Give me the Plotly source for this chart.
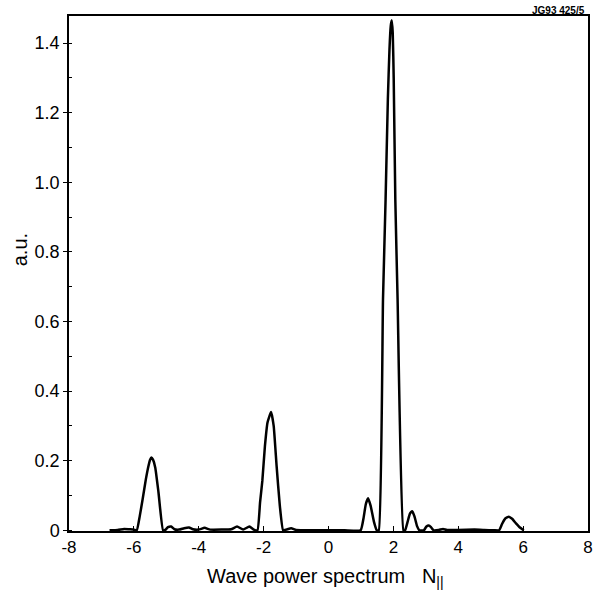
import plotly.graph_objects as go

# Wave power spectrum (a.u.) vs N||
n_par = [-6.75, -6.5, -6.3, -6.15, -6.0, -5.91, -5.82, -5.73, -5.63, -5.55, -5.5, -5.46, -5.41, -5.34, -5.24, -5.10,
         -5.02, -4.95, -4.85, -4.75, -4.6, -4.45, -4.30, -4.18, -4.0, -3.82, -3.65, -3.3, -3.0, -2.82, -2.63, -2.44,
         -2.3, -2.19, -2.11, -2.04, -1.96, -1.88, -1.77, -1.69, -1.60, -1.50, -1.40, -1.3, -1.15, -1.0, -0.5, 0.0,
         0.5, 0.99, 1.08, 1.15, 1.22, 1.30, 1.40, 1.49, 1.55, 1.68, 1.76, 1.83, 1.88, 1.92, 1.95, 1.98, 2.01, 2.06,
         2.13, 2.31, 2.36, 2.44, 2.51, 2.58, 2.65, 2.73, 2.80, 2.94, 3.02, 3.09, 3.16, 3.24, 3.4, 3.53, 3.65, 4.0,
         4.5, 4.8, 5.1, 5.26, 5.35, 5.45, 5.56, 5.66, 5.78, 5.9, 6.02]
power = [0.0, 0.001, 0.004, 0.003, 0.002, 0.0, 0.04, 0.089, 0.147, 0.185, 0.203, 0.209, 0.203, 0.18, 0.108, 0.0,
         0.002, 0.009, 0.011, 0.003, 0.002, 0.006, 0.008, 0.003, 0.002, 0.007, 0.002, 0.002, 0.003, 0.011, 0.002, 0.011,
         0.002, 0.0, 0.08, 0.142, 0.242, 0.31, 0.34, 0.30, 0.185, 0.07, 0.0, 0.002, 0.006, 0.001, 0.0, 0.0,
         0.0, 0.0, 0.035, 0.075, 0.092, 0.07, 0.025, 0.0, 0.0, 0.664, 0.951, 1.239, 1.382, 1.45, 1.466, 1.43, 1.30, 0.95,
         0.664, 0.0, 0.0, 0.025, 0.048, 0.055, 0.04, 0.012, 0.0, 0.0, 0.011, 0.014, 0.009, 0.0, 0.001, 0.004, 0.001, 0.001,
         0.002, 0.001, 0.0, 0.0, 0.018, 0.034, 0.039, 0.033, 0.02, 0.008, 0.0]

x_ticks = [-8, -6, -4, -2, 0, 2, 4, 6, 8]
y_ticks = [0, 0.2, 0.4, 0.6, 0.8, 1.0, 1.2, 1.4]
y_ticktext = ["0", "0.2", "0.4", "0.6", "0.8", "1.0", "1.2", "1.4"]

fig = go.Figure()
fig.add_trace(go.Scatter(x=n_par, y=power, mode="lines",
                         line=dict(color="black", width=2.5, shape="spline", smoothing=0.4),
                         showlegend=False, hoverinfo="skip"))

font_family = "Liberation Sans, Arial, sans-serif"
fig.update_layout(
    width=598, height=594,
    margin=dict(l=69, r=5, t=16, b=63),
    paper_bgcolor="white", plot_bgcolor="white",
    font=dict(family=font_family, color="black"),
    xaxis=dict(range=[-8, 8], tickvals=x_ticks, ticktext=[str(v) for v in x_ticks],
               ticks="inside", ticklen=5, tickwidth=1.2, tickcolor="black",
               showline=True, linecolor="black", linewidth=1.5, mirror=True,
               showgrid=False, zeroline=False, tickfont=dict(size=17),
               ticklabeloverflow="allow"),
    yaxis=dict(range=[-0.002, 1.478], tickvals=y_ticks, ticktext=y_ticktext,
               ticks="outside", ticklen=4, tickwidth=1.2, tickcolor="black",
               minor=dict(ticks="inside", ticklen=3, dtick=0.1, tick0=0, tickcolor="black"),
               showline=True, linecolor="black", linewidth=1.5, mirror=True,
               showgrid=False, zeroline=False, tickfont=dict(size=18)),
    annotations=[
        dict(text="a.u.", textangle=-90, x=-0.0945, y=0.547, xref="paper", yref="paper",
             xanchor="center", yanchor="middle", showarrow=False, font=dict(size=20, color="black")),
        dict(text="Wave power spectrum   N<sub>||</sub>", x=0.495, y=-0.09, xref="paper", yref="paper",
             xanchor="center", yanchor="middle", showarrow=False, font=dict(size=20, color="black")),
        dict(text="<b>JG93 425/5</b>", x=0.998, y=1.0105, xref="paper", yref="paper",
             xanchor="right", yanchor="middle", showarrow=False, font=dict(size=10, color="black")),
    ],
)

fig.write_html("out.html", config={"displayModeBar": False},
               post_script="document.body.style.margin='0';")
